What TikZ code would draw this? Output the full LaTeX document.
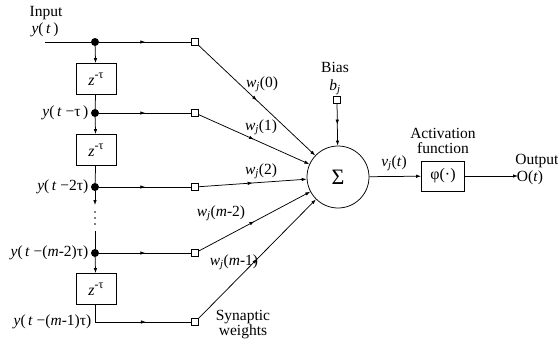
\documentclass[tikz,border=0pt]{standalone}
\usepackage{fontspec}
\setmainfont{Liberation Serif}
\usetikzlibrary{arrows.meta,decorations.markings}
\newcommand{\vi}[1]{\textit{#1}}
\newcommand{\zdel}{\vi{z}\raisebox{0.45em}{\fontsize{12}{12}\selectfont -τ}}
\begin{document}
\begin{tikzpicture}[x=1pt,y=-1pt,
  ln/.style={line width=0.75pt},
  sq/.style={draw, minimum size=6.5pt, inner sep=0pt, line width=0.7pt, fill=white},
  dot/.style={circle, fill, inner sep=0pt, minimum size=8pt},
  dbox/.style={draw, line width=0.75pt, minimum width=40pt, minimum height=31pt, inner sep=0pt, font=\fontsize{16}{16}\selectfont},
  mid/.style={postaction={decorate}, decoration={markings, mark=at position #1 with {\arrow{Latex[length=5pt,width=3.5pt]}}}},
  mid/.default=0.5,
  tip/.style={-{Latex[length=5pt,width=3.5pt]}},
  txt/.style={font=\fontsize{15.5}{13}\selectfont, inner sep=0.5pt},
  mth/.style={font=\fontsize{15.5}{16}\selectfont, inner sep=0.5pt}
]
\useasboundingbox (0,0) rectangle (558,340);

% left tapped delay line
\coordinate (in) at (45,42);
\node[dot] (d0) at (95,42) {};
\node[sq] (s0) at (195,42) {};
\node[dbox] (z1) at (96,79) {\zdel};
\node[dot] (d1) at (95,113) {};
\node[sq] (s1) at (195,113) {};
\node[dbox] (z2) at (96,150) {\zdel};
\node[dot] (d2) at (95,187) {};
\node[sq] (s2) at (195,187) {};
\coordinate (a2) at (95,205);
\coordinate (a3) at (95,231);
\node[dot] (d3) at (95,253) {};
\node[sq] (s3) at (195,253) {};
\node[dbox] (z3) at (96,289) {\zdel};
\node[sq] (s4) at (195,322) {};

% neuron
\node[circle, draw, line width=0.75pt, minimum size=62pt, inner sep=0pt, font=\fontsize{22}{24}\selectfont] (sum) at (338,177) {Σ};
\node[sq] (sb) at (337,100) {};
\node[dbox, minimum width=43pt, minimum height=30pt] (phi) at (443,176) {φ(·)};
\coordinate (out) at (518,176);

% connectors
\draw[ln] (in) -- (d0);
\draw[ln, mid] (d0) -- (s0);
\draw[ln, tip] (d0) -- (z1);
\draw[ln] (z1) -- (d1);
\draw[ln, mid] (d1) -- (s1);
\draw[ln, tip] (d1) -- (z2);
\draw[ln] (z2) -- (d2);
\draw[ln, mid] (d2) -- (s2);
\draw[ln, tip] (d2) -- (a2);
\foreach \yy in {212,218,224} \fill (95,\yy) circle (0.8pt);
\draw[ln] (a3) -- (d3);
\draw[ln, mid] (d3) -- (s3);
\draw[ln, tip] (d3) -- (z3);
\draw[ln, mid=0.6] (z3.south -| d3) |- (s4);

\foreach \s in {s0,s1,s2,s3,s4} \draw[ln, tip, mid=0.5] (\s) -- (sum);
\draw[ln, tip, mid=0.5] (sb) -- (sum);
\draw[ln, tip] (sum) -- (phi);
\draw[ln, tip] (phi) -- (out);

% labels
\node[txt] (lin) at (46,13) {Input};
\node[mth] (ly0) at (45,30) {\vi{y}(\,\vi{t}\,)};
\node[mth, anchor=east] (ly1) at (89,113) {\vi{y}(\,\vi{t} −τ\,)};
\node[mth, anchor=east] (ly2) at (89,187) {\vi{y}(\,\vi{t} −2τ)};
\node[mth, anchor=east] (ly3) at (89,253) {\vi{y}(\,\vi{t} −(\vi{m}-2)τ)};
\node[mth, anchor=east] (ly4) at (92,322) {\vi{y}(\,\vi{t} −(\vi{m}-1)τ)};
\node[mth] (w0) at (262,84) {\vi{w}\textsubscript{\vi{j}}(0)};
\node[mth] (w1) at (261,127) {\vi{w}\textsubscript{\vi{j}}(1)};
\node[mth] (w2) at (261,171) {\vi{w}\textsubscript{\vi{j}}(2)};
\node[mth] (w3) at (221,213) {\vi{w}\textsubscript{\vi{j}}(\vi{m}-2)};
\node[mth] (w4) at (234,262) {\vi{w}\textsubscript{\vi{j}}(\vi{m}-1)};
\node[txt, font=\fontsize{15.5}{14}\selectfont, align=center, anchor=south] (syn) at (243,340) {Synaptic\\weights};
\node[txt] (bias) at (335,67) {Bias};
\node[mth] (bj) at (335,87) {\vi{b}\textsubscript{\vi{j}}};
\node[mth] (vj) at (394,163) {\vi{v}\textsubscript{\vi{j}}(\vi{t})};
\node[txt, font=\fontsize{15.5}{15.5}\selectfont, align=center] (act) at (443,141) {Activation\\function};
\node[txt] (outl) at (537,161) {Output};
\node[mth] (ot) at (530,178) {O(\vi{t})};
\end{tikzpicture}
\end{document}
